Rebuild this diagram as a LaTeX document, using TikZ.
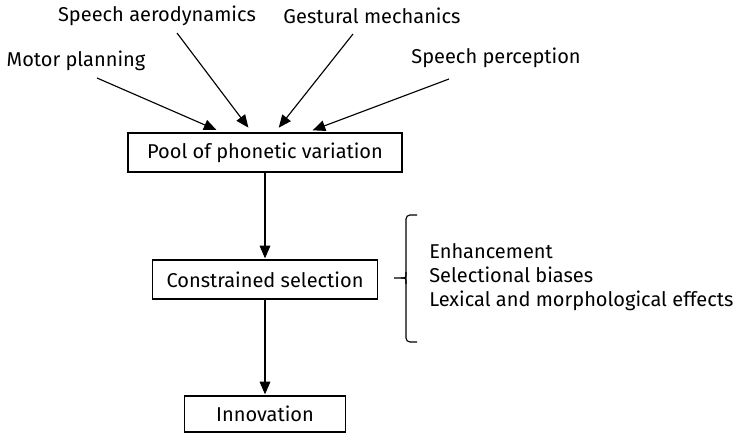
\documentclass[tikz,border=0pt]{standalone}
\usepackage{fontspec}
\setmainfont{Fira Sans}
\usetikzlibrary{positioning,arrows.meta,calc}
\tikzset{
    stage/.style={
        rectangle,
        draw=black,
        line width=0.9pt,
        align=center,
        minimum height=29.25pt,
        inner sep=0pt,
        font=\fontsize{15}{18}\selectfont,
    },
    source/.style={
        inner sep=0pt,
        font=\fontsize{15}{18}\selectfont,
    },
    connector/.style={
        -{Triangle[length=9.5pt,width=8pt]},
        line width=0.85pt,
        shorten >=0.8pt,
    },
    feeder/.style={
        connector,
        shorten >=4.5pt,
    },
}
\begin{document}
\begin{tikzpicture}[x=0.75pt,y=-0.75pt]
        \useasboundingbox (0,0) rectangle (738,436);
        % main chain
        \node[stage,minimum width=205.5pt](pool) at (265,152.5) {Pool of phonetic variation};
        \node[stage,minimum width=168.75pt](sel) at (265,279.5) {Constrained selection};
        \node[stage,minimum width=120.75pt,minimum height=27pt](innov) at (265,414) {Innovation};

        % sources of variation
        \node[source](motor) at (76,61) {Motor planning};
        \node[source](aero) at (157,16) {Speech aerodynamics};
        \node[source](gest) at (372,16) {Gestural mechanics};
        \node[source](perc) at (496,58) {Speech perception};
        \coordinate (m0) at (97,78);
        \coordinate (a0) at (177,33);
        \coordinate (g0) at (353,34);
        \coordinate (p0) at (449,79);

        \draw[feeder] (m0) -- ($(pool.north)+(-43,0)$);
        \draw[feeder] (a0) -- ($(pool.north)+(-13,0)$);
        \draw[feeder] (g0) -- ($(pool.north)+(10,0)$);
        \draw[feeder] (p0) -- ($(pool.north)+(42,0)$);

        \draw[connector] (pool) -- (sel);
        \draw[connector] (sel) -- (innov);

        % selection factors
        \coordinate (tip) at (394,278);
        \draw[line width=0.85pt,rounded corners=3pt] (417,215) -- (406,215) -- (406,342) -- (417,342);
        \draw[line width=0.85pt] (tip) -- (401,278) .. controls (406,278) .. (406,272);
        \draw[line width=0.85pt] (401,278) .. controls (406,278) .. (406,284);
        \node[source,anchor=west,align=left](factors) at (429,277)
            {Enhancement\\Selectional biases\\Lexical and morphological effects};
\end{tikzpicture}
\end{document}
